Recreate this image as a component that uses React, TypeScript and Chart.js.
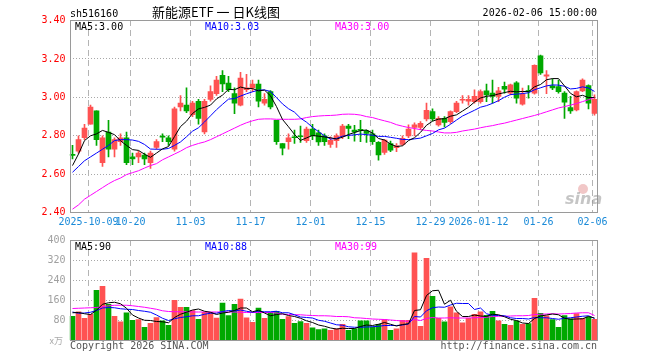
import React, { useEffect, useRef } from 'react';
import { Chart, registerables } from 'chart.js';

Chart.register(...registerables);

// ---------- DATA ----------
const dates = [
  '2025-09-26', '2025-09-29', '2025-09-30', '2025-10-09', '2025-10-10', '2025-10-13', '2025-10-14', '2025-10-15', '2025-10-16', '2025-10-17',
  '2025-10-20', '2025-10-21', '2025-10-22', '2025-10-23', '2025-10-24', '2025-10-27', '2025-10-28', '2025-10-29', '2025-10-30', '2025-10-31',
  '2025-11-03', '2025-11-04', '2025-11-05', '2025-11-06', '2025-11-07', '2025-11-10', '2025-11-11', '2025-11-12', '2025-11-13', '2025-11-14',
  '2025-11-17', '2025-11-18', '2025-11-19', '2025-11-20', '2025-11-21', '2025-11-24', '2025-11-25', '2025-11-26', '2025-11-27', '2025-11-28',
  '2025-12-01', '2025-12-02', '2025-12-03', '2025-12-04', '2025-12-05', '2025-12-08', '2025-12-09', '2025-12-10', '2025-12-11', '2025-12-12',
  '2025-12-15', '2025-12-16', '2025-12-17', '2025-12-18', '2025-12-19', '2025-12-22', '2025-12-23', '2025-12-24', '2025-12-25', '2025-12-26',
  '2025-12-29', '2025-12-30', '2025-12-31', '2026-01-05', '2026-01-06', '2026-01-07', '2026-01-08', '2026-01-09', '2026-01-12', '2026-01-13',
  '2026-01-14', '2026-01-15', '2026-01-16', '2026-01-19', '2026-01-20', '2026-01-21', '2026-01-22', '2026-01-23', '2026-01-26', '2026-01-27',
  '2026-01-28', '2026-01-29', '2026-01-30', '2026-02-02', '2026-02-03', '2026-02-04', '2026-02-05', '2026-02-06',
];

const xTickDates = ['2025-10-09', '2025-10-20', '2025-11-03', '2025-11-17', '2025-12-01', '2025-12-15', '2025-12-29', '2026-01-12', '2026-01-26', '2026-02-06'];
const xTickText = ['2025-10-09', '10-20', '11-03', '11-17', '12-01', '12-15', '12-29', '2026-01-12', '01-26', '02-06'];

const open = [
  2.70, 2.72, 2.79, 2.86, 2.93, 2.66, 2.82, 2.73, 2.77, 2.79,
  2.69, 2.69, 2.70, 2.66, 2.74, 2.797, 2.79, 2.73, 2.95, 2.96,
  2.91, 2.98, 2.82, 2.99, 3.02, 3.115, 3.075, 3.02, 2.96, 3.04,
  3.05, 3.07, 2.97, 3.03, 2.88, 2.76, 2.77, 2.795, 2.80, 2.775,
  2.835, 2.815, 2.80, 2.755, 2.775, 2.795, 2.85, 2.83, 2.83, 2.826,
  2.81, 2.766, 2.713, 2.76, 2.738, 2.755, 2.80, 2.843, 2.843, 2.888,
  2.926, 2.857, 2.891, 2.874, 2.926, 2.985, 2.98, 2.978, 2.978, 3.034,
  3.022, 3.005, 3.058, 3.022, 3.076, 2.965, 3.032, 3.022, 3.216, 3.11,
  3.06, 3.057, 3.022, 2.947, 2.935, 3.034, 3.062, 2.917,
];
const high = [
  2.75, 2.80, 2.86, 2.96, 2.93, 2.80, 2.88, 2.79, 2.81, 2.82,
  2.71, 2.72, 2.71, 2.72, 2.78, 2.81, 2.80, 2.95, 3.01, 3.05,
  2.98, 2.99, 2.99, 3.06, 3.11, 3.14, 3.11, 3.05, 3.13, 3.12,
  3.09, 3.09, 3.02, 3.035, 2.88, 2.76, 2.81, 2.83, 2.85, 2.845,
  2.86, 2.83, 2.81, 2.795, 2.81, 2.86, 2.86, 2.855, 2.88, 2.83,
  2.83, 2.77, 2.78, 2.773, 2.76, 2.80, 2.857, 2.867, 2.874, 2.97,
  2.94, 2.90, 2.90, 2.93, 2.98, 3.01, 3.01, 3.04, 3.04, 3.07,
  3.09, 3.053, 3.08, 3.07, 3.083, 3.048, 3.062, 3.17, 3.22, 3.14,
  3.097, 3.09, 3.03, 3.005, 3.034, 3.097, 3.066, 3.013,
];
const low = [
  2.68, 2.71, 2.78, 2.86, 2.75, 2.64, 2.69, 2.69, 2.75, 2.65,
  2.65, 2.66, 2.65, 2.63, 2.73, 2.77, 2.75, 2.72, 2.93, 2.92,
  2.90, 2.86, 2.81, 2.98, 3.01, 3.03, 3.03, 2.915, 2.955, 3.03,
  3.03, 2.95, 2.96, 2.94, 2.755, 2.70, 2.73, 2.76, 2.765, 2.765,
  2.78, 2.75, 2.75, 2.74, 2.74, 2.785, 2.785, 2.772, 2.77, 2.765,
  2.755, 2.673, 2.703, 2.717, 2.717, 2.75, 2.79, 2.80, 2.832, 2.877,
  2.877, 2.85, 2.846, 2.865, 2.92, 2.97, 2.96, 2.97, 2.97, 2.978,
  2.97, 2.978, 3.022, 3.013, 2.97, 2.96, 2.996, 3.017, 3.12, 3.02,
  3.04, 3.022, 2.89, 2.917, 2.93, 3.03, 2.94, 2.907,
];
const close = [
  2.698, 2.78, 2.84, 2.95, 2.78, 2.79, 2.73, 2.78, 2.79, 2.66,
  2.68, 2.71, 2.68, 2.71, 2.77, 2.793, 2.77, 2.94, 2.97, 2.93,
  2.97, 2.89, 2.98, 3.03, 3.09, 3.07, 3.04, 2.97, 3.10, 3.05,
  3.07, 2.98, 2.99, 2.95, 2.77, 2.735, 2.79, 2.79, 2.795, 2.835,
  2.80, 2.768, 2.77, 2.777, 2.80, 2.85, 2.838, 2.82, 2.828, 2.813,
  2.77, 2.70, 2.778, 2.725, 2.748, 2.787, 2.835, 2.857, 2.865, 2.933,
  2.888, 2.891, 2.87, 2.926, 2.97, 2.99, 2.99, 3.006, 3.03, 3.013,
  3.005, 3.034, 3.043, 3.066, 2.996, 3.017, 3.03, 3.167, 3.127, 3.118,
  3.05, 3.03, 2.975, 2.93, 3.03, 3.09, 2.97, 2.99,
];

const ma5 = [
  2.645, 2.705, 2.775, 2.80, 2.81, 2.828, 2.818, 2.806, 2.774, 2.75,
  2.728, 2.724, 2.704, 2.688, 2.71, 2.732, 2.744, 2.796, 2.848, 2.876,
  2.916, 2.94, 2.948, 2.96, 2.992, 3.012, 3.042, 3.04, 3.054, 3.046,
  3.046, 3.034, 3.038, 3.008, 2.952, 2.885, 2.847, 2.807, 2.776, 2.789,
  2.802, 2.798, 2.794, 2.79, 2.783, 2.793, 2.807, 2.817, 2.827, 2.83,
  2.814, 2.786, 2.778, 2.757, 2.744, 2.748, 2.775, 2.79, 2.818, 2.855,
  2.876, 2.887, 2.889, 2.902, 2.909, 2.929, 2.949, 2.976, 2.997, 3.006,
  3.009, 3.018, 3.025, 3.032, 3.029, 3.031, 3.03, 3.055, 3.067, 3.092,
  3.098, 3.098, 3.06, 3.021, 3.003, 3.011, 2.999, 3.00,
];
const ma10 = [
  2.61, 2.64, 2.67, 2.69, 2.71, 2.73, 2.75, 2.775, 2.78, 2.78,
  2.778, 2.771, 2.755, 2.731, 2.73, 2.73, 2.734, 2.75, 2.768, 2.795,
  2.824, 2.842, 2.872, 2.904, 2.936, 2.964, 2.991, 2.994, 3.007, 3.019,
  3.029, 3.038, 3.039, 3.031, 2.999, 2.966, 2.941, 2.923, 2.892, 2.871,
  2.844, 2.822, 2.80, 2.783, 2.786, 2.798, 2.802, 2.805, 2.809, 2.806,
  2.803, 2.797, 2.797, 2.792, 2.787, 2.781, 2.78, 2.784, 2.788, 2.80,
  2.812, 2.831, 2.84, 2.86, 2.882, 2.903, 2.918, 2.933, 2.949, 2.957,
  2.969, 2.983, 3.001, 3.015, 3.017, 3.02, 3.024, 3.04, 3.05, 3.06,
  3.065, 3.064, 3.058, 3.044, 3.047, 3.055, 3.049, 3.031,
];
const ma30 = [
  2.418, 2.44, 2.47, 2.49, 2.51, 2.53, 2.55, 2.567, 2.58, 2.598,
  2.608, 2.618, 2.632, 2.645, 2.655, 2.675, 2.69, 2.705, 2.72, 2.738,
  2.75, 2.76, 2.768, 2.78, 2.795, 2.81, 2.825, 2.84, 2.855, 2.868,
  2.878, 2.886, 2.888, 2.888, 2.886, 2.886, 2.886, 2.886, 2.888, 2.895,
  2.90, 2.903, 2.905, 2.906, 2.908, 2.912, 2.913, 2.912, 2.908, 2.90,
  2.895, 2.886, 2.878, 2.87, 2.858, 2.85, 2.843, 2.838, 2.832, 2.828,
  2.825, 2.82, 2.815, 2.815, 2.818, 2.825, 2.83, 2.835, 2.842, 2.848,
  2.853, 2.86, 2.866, 2.874, 2.882, 2.89, 2.898, 2.906, 2.915, 2.925,
  2.935, 2.945, 2.952, 2.96, 2.968, 2.978, 2.988, 3.00,
];

const volume = [
  97, 115, 89, 105, 201, 217, 145, 97, 75, 111,
  81, 84, 53, 69, 92, 79, 61, 161, 133, 133,
  120, 85, 113, 113, 90, 150, 100, 145, 166, 91,
  73, 130, 89, 113, 117, 85, 96, 69, 76, 69,
  51, 44, 47, 41, 47, 65, 41, 47, 79, 79,
  55, 65, 84, 41, 47, 81, 81, 351, 57, 329,
  177, 89, 75, 135, 111, 71, 89, 105, 115, 101,
  117, 79, 65, 61, 79, 65, 68, 169, 109, 99,
  84, 53, 100, 87, 108, 89, 95, 85,
];
const volMa5 = [
  111, 112, 107, 104, 121, 145, 151, 153, 147, 129,
  102, 90, 81, 80, 76, 75, 71, 92, 105, 113,
  122, 126, 117, 113, 104, 110, 113, 120, 130, 130,
  115, 121, 110, 99, 104, 107, 100, 96, 89, 79,
  72, 62, 57, 50, 46, 49, 48, 48, 56, 62,
  60, 65, 72, 65, 58, 64, 67, 120, 123, 180,
  199, 201, 145, 161, 117, 96, 96, 102, 98, 96,
  105, 103, 95, 85, 80, 70, 68, 88, 98, 102,
  106, 103, 89, 85, 86, 87, 96, 90,
];
const volMa10 = [
  114, 109, 110, 113, 120, 130, 132, 131, 127, 125,
  124, 120, 117, 113, 102, 89, 80, 87, 92, 95,
  99, 99, 105, 109, 109, 116, 120, 118, 122, 117,
  113, 117, 115, 115, 117, 111, 111, 103, 94, 92,
  90, 81, 77, 70, 63, 61, 55, 53, 53, 54,
  55, 57, 60, 60, 60, 62, 66, 96, 94, 119,
  131, 134, 133, 142, 149, 148, 148, 124, 130, 107,
  101, 100, 99, 91, 88, 88, 86, 92, 91, 91,
  88, 85, 89, 91, 94, 97, 99, 88,
];
const volMa30 = [
  128, 129, 130, 131, 132, 135, 139, 141, 141, 141,
  139, 136, 133, 129, 125, 119, 116, 115, 115, 115,
  114, 114, 114, 114, 114, 114, 114, 114, 113, 112,
  112, 112, 112, 112, 110, 105, 104, 103, 103, 101,
  100, 99, 99, 98, 96, 96, 95, 91, 90, 88,
  86, 85, 84, 82, 80, 78, 77, 84, 80, 88,
  92, 90, 90, 91, 90, 90, 90, 91, 92, 93,
  96, 97, 97, 98, 99, 99, 100, 104, 105, 106,
  107, 106, 107, 108, 110, 111, 111, 100,
];

const priceMin = 2.4;
const priceMax = 3.4;
const priceStep = 0.2;
const volMax = 400;
const volStep = 80;

// ---------- STYLE ----------
const RED = '#ff5252';
const GREEN = '#00a800';
const MONO = '"DejaVu Sans Mono", monospace';
const FRAME = '#9a9a9a';
const GRID_V = '#b4b4b4';
const GRID_H = '#a8a8a8';

export default function App() {
  const priceRef = useRef<HTMLCanvasElement>(null);
  const volRef = useRef<HTMLCanvasElement>(null);

  useEffect(() => {
    const colors = dates.map((_, i) => (close[i] >= open[i] ? RED : GREEN));
    const tickIdx = xTickDates.map((d) => dates.indexOf(d));

    const vgrid = {
      id: 'vgrid',
      beforeDatasetsDraw(chart: any) {
        const { ctx, chartArea: a, scales } = chart;
        ctx.save();
        ctx.strokeStyle = GRID_V;
        ctx.lineWidth = 1;
        ctx.setLineDash([6, 4]);
        tickIdx.forEach((i) => {
          const x = Math.round(scales.x.getPixelForValue(i) - 2.5) + 0.5;
          ctx.beginPath();
          ctx.moveTo(x, Math.floor(a.top));
          ctx.lineTo(x, Math.floor(a.bottom));
          ctx.stroke();
        });
        ctx.restore();
      },
    };

    const frame = {
      id: 'frame',
      afterDatasetsDraw(chart: any) {
        const { ctx, chartArea: a } = chart;
        const x0 = Math.ceil(a.left), x1 = Math.floor(a.right);
        const y0 = Math.floor(a.top), y1 = Math.floor(a.bottom);
        ctx.save();
        ctx.strokeStyle = FRAME;
        ctx.lineWidth = 1;
        ctx.setLineDash([]);
        ctx.strokeRect(x0 + 0.5, y0 + 0.5, x1 - x0, y1 - y0);
        ctx.restore();
      },
    };

    const priceText = {
      id: 'priceText',
      afterDraw(chart: any) {
        const ctx = chart.ctx;
        ctx.save();
        ctx.textBaseline = 'alphabetic';
        ctx.font = `10px ${MONO}`;
        ctx.fillStyle = '#000';
        ctx.textAlign = 'left';
        ctx.fillText('sh516160', 70, 17);
        ctx.textAlign = 'right';
        ctx.fillText('2026-02-06 15:00:00', 597, 16);
        ctx.font = '13px "Noto Sans CJK SC"';
        ctx.textAlign = 'center';
        ctx.fillText('新能源ETF 一 日K线图', 216, 17);
        ctx.font = `10px ${MONO}`;
        ctx.textAlign = 'left';
        ctx.fillStyle = '#000';
        ctx.fillText('MA5:3.00', 75, 30);
        ctx.fillStyle = '#0000ff';
        ctx.fillText('MA10:3.03', 205, 30);
        ctx.fillStyle = '#ff00ff';
        ctx.fillText('MA30:3.00', 335, 30);
        // sina watermark
        ctx.fillStyle = 'rgba(225,130,130,0.45)';
        ctx.beginPath();
        ctx.arc(583, 189, 5, 0, Math.PI * 2);
        ctx.fill();
        ctx.fillStyle = 'rgba(150,150,150,0.55)';
        ctx.font = 'italic bold 16px "DejaVu Sans"';
        ctx.textAlign = 'left';
        ctx.fillText('sina', 565, 204);
        ctx.restore();
      },
    };

    const volText = {
      id: 'volText',
      afterDraw(chart: any) {
        const ctx = chart.ctx;
        ctx.save();
        ctx.textBaseline = 'alphabetic';
        ctx.font = `10px ${MONO}`;
        ctx.textAlign = 'left';
        ctx.fillStyle = '#000';
        ctx.fillText('MA5:90', 75, 250);
        ctx.fillStyle = '#0000ff';
        ctx.fillText('MA10:88', 205, 250);
        ctx.fillStyle = '#ff00ff';
        ctx.fillText('MA30:99', 335, 250);
        ctx.fillStyle = '#555';
        ctx.fillText('Copyright 2026 SINA.COM', 70, 349);
        ctx.textAlign = 'right';
        ctx.fillText('http://finance.sina.com.cn', 597, 349);
        ctx.fillStyle = '#aaa';
        ctx.font = '9px "Noto Sans CJK SC"';
        ctx.textAlign = 'right';
        ctx.fillText('x万', 63, 344);
        ctx.restore();
      },
    };

    const line = (data: number[], color: string) => ({
      type: 'line' as const,
      data,
      borderColor: color,
      borderWidth: 1,
      pointRadius: 0,
      tension: 0,
      fill: false,
      order: 0,
    });

    const yAxisWidth = (s: any) => { s.width = 69.5; };

    const priceChart = new Chart(priceRef.current as HTMLCanvasElement, {
      type: 'bar',
      data: {
        labels: dates,
        datasets: [
          line(ma5, '#000000'),
          line(ma10, '#0000ff'),
          line(ma30, '#ff00ff'),
          {
            type: 'bar',
            data: dates.map((_, i) => [low[i], high[i]]),
            backgroundColor: colors,
            barThickness: 1,
            grouped: false,
            order: 2,
          } as any,
          {
            type: 'bar',
            data: dates.map((_, i) => [Math.min(open[i], close[i]), Math.max(open[i], close[i])]),
            backgroundColor: colors,
            barThickness: 5,
            minBarLength: 1,
            grouped: false,
            order: 1,
          } as any,
        ],
      },
      options: {
        responsive: false,
        animation: false,
        devicePixelRatio: 1,
        layout: { padding: { left: 0, right: 62.5, top: 20.6, bottom: 127.4 } },
        plugins: { legend: { display: false }, tooltip: { enabled: false } },
        scales: {
          x: {
            type: 'category',
            offset: true,
            grid: { display: false, drawTicks: false },
            border: { display: false },
            ticks: {
              autoSkip: false,
              maxRotation: 0,
              minRotation: 0,
              padding: 4,
              labelOffset: -2,
              color: '#1a8ad8',
              font: { family: MONO, size: 10 },
              callback: (_v: any, i: number) => {
                const k = tickIdx.indexOf(i);
                return k >= 0 ? xTickText[k] : '';
              },
            },
            afterFit: (s: any) => { s.height = 20; },
          },
          y: {
            min: priceMin,
            max: priceMax,
            grid: { color: GRID_H, drawTicks: false },
            border: { display: false, dash: [1, 2] },
            ticks: {
              stepSize: priceStep,
              padding: 4,
              color: '#ff0000',
              font: { family: MONO, size: 10 },
              callback: (v: any) => Number(v).toFixed(2),
            },
            afterFit: yAxisWidth,
          },
        },
      } as any,
      plugins: [vgrid, frame, priceText],
    });

    const volChart = new Chart(volRef.current as HTMLCanvasElement, {
      type: 'bar',
      data: {
        labels: dates,
        datasets: [
          line(volMa5, '#000000'),
          line(volMa10, '#0000ff'),
          line(volMa30, '#ff00ff'),
          {
            type: 'bar',
            data: volume,
            backgroundColor: colors,
            barThickness: 5,
            grouped: false,
            order: 1,
          } as any,
        ],
      },
      options: {
        responsive: false,
        animation: false,
        devicePixelRatio: 1,
        layout: { padding: { left: 0, right: 62.5, top: 240.5, bottom: 19.5 } },
        plugins: { legend: { display: false }, tooltip: { enabled: false } },
        scales: {
          x: {
            type: 'category',
            offset: true,
            display: false,
          },
          y: {
            min: 0,
            max: volMax,
            grid: { color: GRID_H, drawTicks: false },
            border: { display: false, dash: [1, 2] },
            ticks: {
              stepSize: volStep,
              padding: 4,
              color: '#a0a0a0',
              font: { family: MONO, size: 10 },
              callback: (v: any) => (Number(v) === 0 ? '' : String(v)),
            },
            afterFit: yAxisWidth,
          },
        },
      } as any,
      plugins: [vgrid, frame, volText],
    });

    return () => {
      priceChart.destroy();
      volChart.destroy();
    };
  }, []);

  return (
    <div style={{ position: 'fixed', left: 0, top: 0, width: 660, height: 360, background: '#fff' }}>
      <canvas ref={priceRef} width={660} height={360} style={{ position: 'absolute', left: 0, top: 0, width: 660, height: 360 }} />
      <canvas ref={volRef} width={660} height={360} style={{ position: 'absolute', left: 0, top: 0, width: 660, height: 360 }} />
    </div>
  );
}
